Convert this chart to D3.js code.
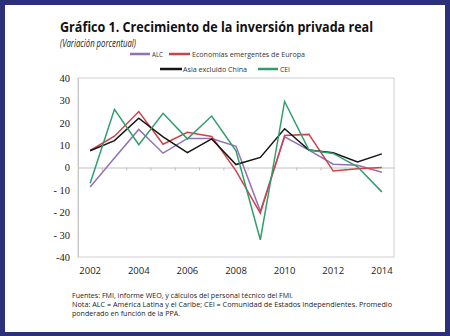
<!DOCTYPE html>
<html><head><meta charset="utf-8">
<script src="https://cdn.jsdelivr.net/npm/d3@7"></script>
<style>html,body{margin:0;padding:0;background:#2b3078;}svg{display:block;}</style>
</head><body>
<script>
const years = [2002,2003,2004,2005,2006,2007,2008,2009,2010,2011,2012,2013,2014];
const alc    = [-8.7, 4.2, 17.0, 6.4, 13.0, 13.0, 9.5, -19.5, 13.7, 7.8, 1.5, 1.0, -2.1];
const europa = [7.6, 14.0, 25.0, 10.4, 15.7, 13.9, -1.5, -20.4, 14.3, 14.8, -1.6, -0.6, 0.0];
const asia   = [7.5, 12.0, 22.0, 13.7, 6.6, 12.8, 1.3, 4.5, 17.3, 7.8, 6.6, 2.5, 6.1];
const cei    = [-7.0, 26.0, 10.2, 24.2, 12.8, 23.0, 7.5, -32.3, 29.5, 7.8, 6.3, 0.3, -10.9];
const yTicks = [40,30,20,10,0,-10,-20,-30,-40];
const yTickLabels = ["40","30","20","10","0","- 10","- 20","- 30","-40"];
const xTickYears = [2002,2004,2006,2008,2010,2012,2014];
const series = [
  {name:"ALC", values:alc, color:"#9370b8"},
  {name:"Economías emergentes de Europa", values:europa, color:"#d2404a"},
  {name:"Asia excluido  China", values:asia, color:"#151515"},
  {name:"CEI", values:cei, color:"#2f9e6c"}
];

(function(){
const W=450,H=336;
const svg=d3.select("body").append("svg").attr("width",W).attr("height",H);
svg.append("rect").attr("x",0).attr("y",0).attr("width",W).attr("height",H).attr("fill","#2b3078");
svg.append("rect").attr("x",5).attr("y",5).attr("width",440).attr("height",327).attr("fill","#ffffff");

svg.append("text").attr("x",60).attr("y",32).attr("font-family","Open Sans, sans-serif")
  .attr("font-weight","bold").attr("font-size",15).attr("fill","#111")
  .attr("textLength",313).attr("lengthAdjust","spacingAndGlyphs")
  .text("Gráfico 1. Crecimiento de la inversión privada real");
svg.append("text").attr("x",60).attr("y",47).attr("font-family","Open Sans, sans-serif")
  .attr("font-style","italic").attr("font-size",10).attr("fill","#222")
  .attr("textLength",76).attr("lengthAdjust","spacingAndGlyphs")
  .text("(Variación porcentual)");

const pL=78,pR=394,pT=78,pB=257;
const x=d3.scaleBand().domain(years).range([pL,pR]);
const y=d3.scaleLinear().domain([-40,40]).range([pB,pT]);

svg.append("rect").attr("x",pL).attr("y",pT).attr("width",pR-pL).attr("height",pB-pT)
  .attr("fill","none").attr("stroke","#d0d0d0").attr("stroke-width",1);

const yAxis=d3.axisLeft(y).tickValues(yTicks).tickSize(0).tickPadding(8)
  .tickFormat(d=>yTickLabels[yTicks.indexOf(d)]);
const gy=svg.append("g").attr("transform",`translate(${pL},0)`).call(yAxis);
gy.select(".domain").attr("stroke","#c8c8c8");
gy.selectAll("text").attr("font-family","Liberation Serif, serif").attr("font-size",10.5).attr("fill","#222");

const gx=svg.append("g").attr("transform",`translate(0,${y(0)})`)
  .call(d3.axisBottom(x).tickValues([]).tickSizeOuter(0));
gx.select(".domain").attr("stroke","#c0c0c0");
svg.append("g").selectAll("line").data(years.slice(1)).join("line")
  .attr("x1",d=>x(d)).attr("x2",d=>x(d)).attr("y1",y(0)).attr("y2",y(0)+3)
  .attr("stroke","#c0c0c0");

const xl=svg.append("g").attr("transform",`translate(0,${pB})`)
  .call(d3.axisBottom(x).tickValues(xTickYears).tickSize(0).tickPadding(10));
xl.select(".domain").remove();
xl.selectAll("text").attr("font-family","Open Sans, sans-serif").attr("font-size",9.5).attr("fill","#222");

const line=d3.line().x((d,i)=>x(years[i])+x.bandwidth()/2).y(d=>y(d));
svg.append("g").selectAll("path").data(series).join("path")
  .attr("d",d=>line(d.values)).attr("fill","none").attr("stroke",d=>d.color)
  .attr("stroke-width",1.5).attr("stroke-linejoin","miter");

const leg=[
  {s:series[0],x1:130,x2:150,tx:152,ty:57,w:11},
  {s:series[1],x1:169,x2:190,tx:192,ty:57,w:113},
  {s:series[2],x1:160,x2:182,tx:183,ty:72,w:64},
  {s:series[3],x1:258,x2:278,tx:280,ty:72,w:10}
];
const lg=svg.append("g");
leg.forEach(l=>{
  lg.append("line").attr("x1",l.x1).attr("x2",l.x2).attr("y1",l.ty-3).attr("y2",l.ty-3)
    .attr("stroke",l.s.color).attr("stroke-width",2.5);
  lg.append("text").attr("x",l.tx).attr("y",l.ty).attr("font-family","Open Sans, sans-serif")
    .attr("font-size",7.5).attr("fill","#333")
    .attr("textLength",l.w).attr("lengthAdjust","spacingAndGlyphs").text(l.s.name);
});

const foot=["Fuentes: FMI, informe WEO, y cálculos del personal técnico del FMI.",
 "Nota: ALC = América Latina y el Caribe; CEI = Comunidad de Estados Independientes.  Promedio",
 "ponderado en función de la PPA."];
const footW=[221,320,108];
svg.append("g").selectAll("text").data(foot).join("text")
  .attr("x",72).attr("y",(d,i)=>298+i*9).attr("font-family","Open Sans, sans-serif")
  .attr("font-size",7.6).attr("fill","#222")
  .attr("textLength",(d,i)=>footW[i]).attr("lengthAdjust","spacingAndGlyphs").text(d=>d);
})();
</script>
</body></html>
